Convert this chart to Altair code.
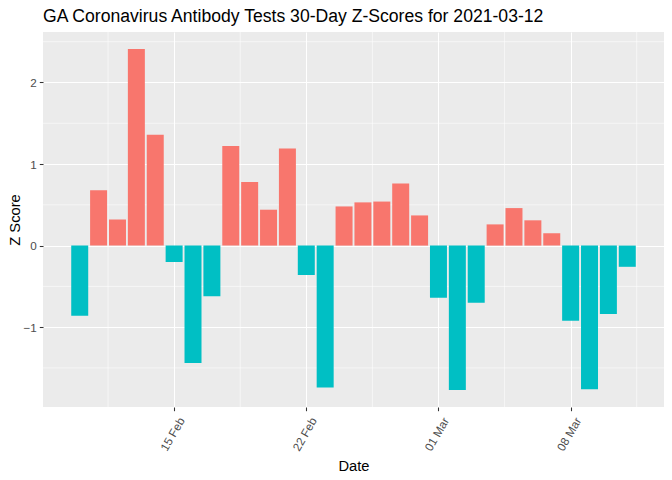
import altair as alt
import pandas as pd

# ---- data ----
dates = [
    "2021-02-10", "2021-02-11", "2021-02-12", "2021-02-13", "2021-02-14",
    "2021-02-15", "2021-02-16", "2021-02-17", "2021-02-18", "2021-02-19",
    "2021-02-20", "2021-02-21", "2021-02-22", "2021-02-23", "2021-02-24",
    "2021-02-25", "2021-02-26", "2021-02-27", "2021-02-28", "2021-03-01",
    "2021-03-02", "2021-03-03", "2021-03-04", "2021-03-05", "2021-03-06",
    "2021-03-07", "2021-03-08", "2021-03-09", "2021-03-10", "2021-03-11",
]
zscores = [
    -0.86, 0.68, 0.32, 2.41, 1.36,
    -0.20, -1.44, -0.62, 1.22, 0.78,
    0.44, 1.19, -0.36, -1.74, 0.48,
    0.53, 0.54, 0.76, 0.37, -0.64,
    -1.77, -0.70, 0.26, 0.46, 0.31,
    0.15, -0.92, -1.76, -0.84, -0.26,
]
x_tick_dates = ["2021-02-15", "2021-02-22", "2021-03-01", "2021-03-08"]
x_minor_dates = ["2021-02-11T12:00:00Z", "2021-02-18T12:00:00Z", "2021-02-25T12:00:00Z",
                 "2021-03-04T12:00:00Z", "2021-03-11T12:00:00Z"]
y_ticks = [-1, 0, 1, 2]
y_minor = [-1.5, -0.5, 0.5, 1.5, 2.5]

title_text = "GA Coronavirus Antibody Tests 30-Day Z-Scores for 2021-03-12"

POS = "#F8766D"
NEG = "#00BFC4"
FONT = "Liberation Sans"

df = pd.DataFrame({"date": dates, "z": zscores})

# scale limits like ggplot (bar width 0.9 day, 5% expansion)
DAY = 86400000
ms = pd.to_datetime(dates, utc=True).asi8 // 10**6
lo = ms.min() - 0.45 * DAY
hi = ms.max() + 0.45 * DAY
span = hi - lo
x_domain = [float(lo - 0.05 * span), float(hi + 0.05 * span)]
zmin, zmax = min(zscores), max(zscores)
zspan = zmax - zmin
y_domain = [zmin - 0.05 * zspan, zmax + 0.05 * zspan]
tick_ms = [float(v) for v in pd.to_datetime(x_tick_dates, utc=True).asi8 // 10**6]

xscale = alt.Scale(type="utc", domain=x_domain, nice=False)
yscale = alt.Scale(domain=y_domain, nice=False, zero=False)

xaxis = alt.Axis(
    values=tick_ms, labelExpr="utcFormat(datum.value, '%d %b')",
    labelAngle=-60, labelAlign="center", labelBaseline="middle",
    labelPadding=23, labelOffset=-2,
    title="Date", titleBaseline="alphabetic", titleY=63,
)
yaxis = alt.Axis(
    values=y_ticks, format="d", labelPadding=3,
    title="Z Score", titleBaseline="alphabetic", titleX=-24, titleAngle=-90,
)

minor_x = alt.Chart(pd.DataFrame({"xm": x_minor_dates})).mark_rule(
    color="white", strokeWidth=0.55
).encode(x=alt.X("xm:T", scale=xscale, axis=xaxis))

minor_y = alt.Chart(pd.DataFrame({"ym": y_minor})).mark_rule(
    color="white", strokeWidth=0.55
).encode(y=alt.Y("ym:Q", scale=yscale, axis=yaxis))

bars = alt.Chart(df).transform_calculate(
    x0="toDate(datum.date) - 0.45 * 86400000",
    x1="toDate(datum.date) + 0.45 * 86400000",
).mark_bar().encode(
    x=alt.X("x0:T", scale=xscale, axis=xaxis),
    x2="x1:T",
    y=alt.Y("z:Q", scale=yscale, axis=yaxis),
    y2=alt.datum(0),
    color=alt.condition("datum.z > 0", alt.value(POS), alt.value(NEG)),
)

chart = alt.layer(minor_x, minor_y, bars).properties(
    width=621,
    height=375,
    padding={"left": 35, "top": 24, "right": 0, "bottom": 65},
    autosize=alt.AutoSizeParams(type="none"),
    background="white",
    title=alt.TitleParams(
        text=title_text, anchor="start", frame="group",
        font=FONT, fontSize=17.6, fontWeight="normal", color="black",
        offset=6,
    ),
).configure_view(
    fill="#EBEBEB", strokeWidth=0
).configure_axis(
    labelFont=FONT, labelFontSize=11.7, labelColor="#4D4D4D",
    tickColor="#333333", tickSize=3.7, tickWidth=1.07,
    domain=False, grid=True, gridColor="white", gridWidth=1.07,
    titleFont=FONT, titleFontSize=14.7, titleFontWeight="normal", titleColor="black",
)

chart.save("out.html", embed_options={"renderer": "svg", "actions": False})
